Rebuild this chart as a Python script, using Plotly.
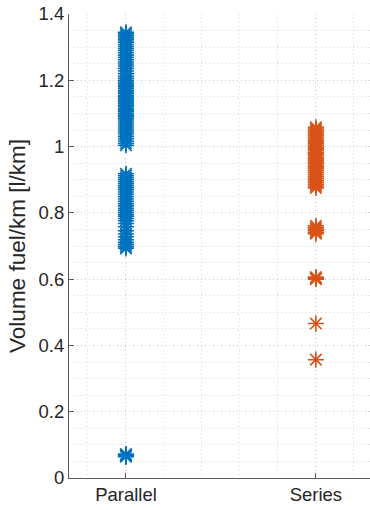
import plotly.graph_objects as go

# Fuel volume per km for each powertrain layout
categories = ["Parallel", "Series"]
category_pos = [1, 2]

parallel_fuel = [
    1.345, 1.340, 1.334, 1.328, 1.322, 1.315, 1.308, 1.302, 1.296, 1.290,
    1.283, 1.276, 1.269, 1.262, 1.255, 1.249, 1.243, 1.236, 1.228, 1.220,
    1.212, 1.206, 1.200, 1.195, 1.190, 1.185, 1.180, 1.175, 1.170, 1.165,
    1.160, 1.155, 1.150, 1.145, 1.140, 1.135, 1.130, 1.125, 1.120, 1.115,
    1.110, 1.105, 1.100, 1.095, 1.090, 1.085, 1.080, 1.074, 1.068, 1.062,
    1.056, 1.050, 1.044, 1.038, 1.031, 1.024, 1.017, 1.010, 1.004,
    0.918, 0.912, 0.906, 0.900, 0.894, 0.888, 0.882, 0.876, 0.870, 0.863,
    0.856, 0.849, 0.842, 0.835, 0.828, 0.821, 0.814, 0.808, 0.802, 0.796,
    0.790, 0.783, 0.776, 0.768, 0.758, 0.746, 0.736, 0.728, 0.719, 0.711,
    0.704, 0.698, 0.693,
    0.072, 0.069, 0.066, 0.064,
]

series_fuel = [
    1.058, 1.053, 1.048, 1.043, 1.038, 1.033, 1.028, 1.023, 1.018, 1.013,
    1.008, 1.003, 0.998, 0.993, 0.988, 0.983, 0.978, 0.973, 0.968, 0.963,
    0.958, 0.953, 0.948, 0.943, 0.938, 0.933, 0.928, 0.922, 0.916, 0.910,
    0.904, 0.898, 0.892, 0.886, 0.880, 0.875,
    0.761, 0.756, 0.751, 0.746, 0.741, 0.737,
    0.606, 0.603, 0.600,
    0.466,
    0.357,
]

colors = ["#0072BD", "#D95319"]
font = "Liberation Sans, Arial, sans-serif"

fig = go.Figure()
for pos, vals, col in zip(category_pos, [parallel_fuel, series_fuel], colors):
    fig.add_trace(go.Scatter(
        x=[pos] * len(vals), y=vals, mode="markers",
        marker=dict(symbol="asterisk-open", size=13.5,
                    line=dict(color=col, width=1.6), color=col),
        showlegend=False,
    ))

grid_col = "rgba(160,160,160,0.4)"
grid_dash = "1px,3px"
axis_col = "#5a5a5a"

fig.update_layout(
    width=370, height=510,
    margin=dict(l=69, r=0, t=14, b=32),
    paper_bgcolor="white", plot_bgcolor="white",
    font=dict(family=font, size=18.5, color="#262626"),
    xaxis=dict(
        range=[0.7, 2.285], tickvals=category_pos, ticktext=categories,
        showline=True, linecolor=axis_col, linewidth=1,
        ticks="inside", ticklen=5, tickcolor=axis_col,
        showgrid=True, gridcolor=grid_col, griddash=grid_dash, gridwidth=1,
        zeroline=False,
        minor=dict(tick0=0, dtick=0.2, showgrid=True, gridcolor=grid_col,
                   griddash=grid_dash, gridwidth=1, ticks=""),
    ),
    yaxis=dict(
        range=[0, 1.4], tickvals=[0, 0.2, 0.4, 0.6, 0.8, 1.0, 1.2, 1.4],
        ticktext=["0", "0.2", "0.4", "0.6", "0.8", "1", "1.2", "1.4"],
        showline=True, linecolor=axis_col, linewidth=1,
        ticks="inside", ticklen=5, tickcolor=axis_col,
        showgrid=True, gridcolor=grid_col, griddash=grid_dash, gridwidth=1,
        zeroline=False,
        title=dict(text="Volume fuel/km [l/km]", font=dict(size=22.5), standoff=6),
        minor=dict(tick0=0, dtick=0.05, showgrid=True, gridcolor=grid_col,
                   griddash=grid_dash, gridwidth=1, ticks=""),
    ),
)

fig.write_html("out.html")
